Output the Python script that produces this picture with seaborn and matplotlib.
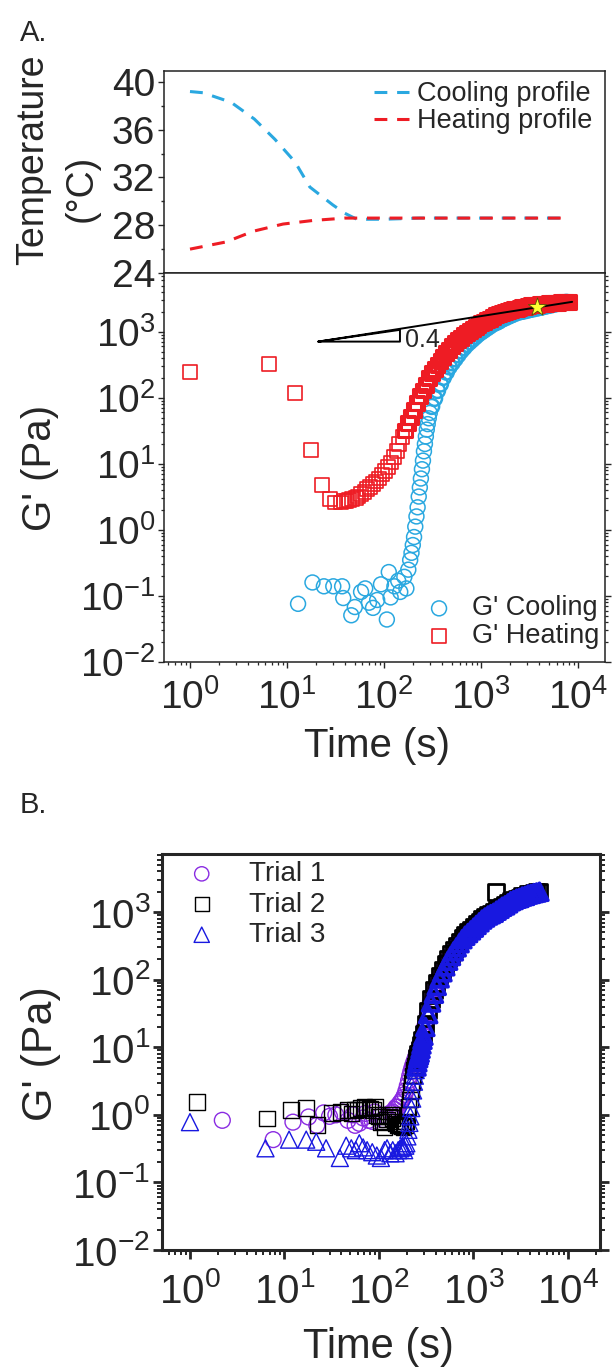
import matplotlib
matplotlib.use("Agg")
import numpy as np
import pandas as pd
import matplotlib.pyplot as plt
import seaborn as sns
from matplotlib.ticker import MultipleLocator, LogLocator, NullFormatter

sns.set_style("ticks")
plt.rcParams["font.family"] = ["Liberation Sans", "DejaVu Sans"]
plt.rcParams["mathtext.fontset"] = "custom"
plt.rcParams["mathtext.rm"] = "Liberation Sans"
plt.rcParams["mathtext.default"] = "regular"
plt.rcParams["axes.unicode_minus"] = False

# --- data: temperature profiles (panel A, top) ---
cool_prof_t = [1.0, 1.36, 2.65, 4.6, 7.5, 12.1, 17.2, 29.7, 39.5, 52.5, 98, 235, 770, 2500, 7200]
cool_prof_T = [39.2, 39.1, 38.3, 36.9, 35.2, 33.3, 31.2, 29.7, 29.0, 28.5, 28.5, 28.6, 28.6, 28.6, 28.6]
heat_prof_t = [1.0, 2.35, 4.5, 9.1, 18.5, 39.5, 145, 770, 7200]
heat_prof_T = [26.0, 26.6, 27.5, 28.1, 28.4, 28.6, 28.6, 28.6, 28.6]

# --- data: G' cooling / heating (panel A, bottom) ---
cool_t = [13, 18.3, 24, 30, 37, 38, 46, 50, 58, 64, 70, 77, 85, 93, 107, 112, 117, 128, 140, 147,
          162, 170, 178,
          186, 192, 198, 204, 210, 216, 222, 228, 234, 240, 246, 252, 258, 264, 270, 276, 282, 289,
          296, 310, 332, 356, 382, 409, 439, 470, 504, 540, 579, 621, 666, 714, 765, 820, 879, 943,
          1010, 1080, 1160, 1240, 1330, 1430, 1530, 1640, 1760, 1890, 2020, 2170, 2330, 2490, 2670,
          2870, 3070, 3290, 3530, 3790, 4060, 4350, 4660, 5000, 5360, 5750, 6160, 6600, 7080, 7590]
cool_g = [0.076, 0.16, 0.14, 0.14, 0.14, 0.093, 0.051, 0.068, 0.115, 0.13, 0.079, 0.066, 0.087,
          0.15, 0.044, 0.23, 0.095, 0.14, 0.17, 0.115, 0.195, 0.13, 0.25,
          0.35, 0.45, 0.59, 0.78, 1.12, 1.6, 2.2, 3.2, 4.4, 6.0, 8.3, 11.2, 15.5, 20, 26, 33, 40, 49,
          59, 74, 98, 129, 162, 204, 245, 295, 339, 389, 447, 513, 575, 646, 708, 776, 851, 933,
          1000, 1070, 1150, 1230, 1320, 1380, 1450, 1550, 1620, 1700, 1780, 1860, 1950, 2000, 2040,
          2090, 2140, 2190, 2240, 2290, 2340, 2400, 2450, 2510, 2570, 2630, 2690, 2720, 2750, 2790]
heat_t = [1.0, 6.5, 12, 17.5, 23, 28, 31,
          36, 39, 41, 44, 47, 51, 54, 58, 63, 67, 72, 77, 83, 89, 95, 102, 109, 117, 126, 135, 144,
          155, 166, 178, 191, 204, 219, 235, 252, 270, 289, 310, 332, 356, 382, 409, 439, 470, 504,
          540, 579, 621, 666, 714, 765, 820, 879, 943, 1010, 1080, 1160, 1240, 1330, 1430, 1530,
          1640, 1760, 1890, 2020, 2170, 2330, 2490, 2670, 2870, 3070, 3290, 3530, 3790, 4060, 4350,
          4660, 5000, 5360, 5750, 6160, 6600, 7080, 7590, 8100]
heat_g = [247, 330, 120, 16, 4.8, 2.9, 2.6,
          2.6, 2.7, 2.75, 2.8, 2.9, 3.0, 3.2, 3.5, 3.8, 4.1, 4.5, 4.9, 5.4, 6.0, 6.9, 7.9, 9.1, 10.5,
          12.9, 15.8, 20, 25.7, 32, 42, 52, 66, 83, 105, 129, 158, 200, 234, 275, 316, 363, 417, 479,
          537, 603, 676, 741, 813, 891, 955, 1020, 1100, 1175, 1260, 1350, 1410, 1510, 1580, 1700,
          1780, 1860, 1950, 2000, 2090, 2140, 2190, 2240, 2290, 2340, 2400, 2450, 2510, 2540, 2570,
          2600, 2630, 2660, 2690, 2720, 2750, 2770, 2790, 2810, 2830, 2850]
slope_t = [21, 146, 146, 21, 8700]   # slope guide: triangle then long line
slope_g = [710, 710, 1070, 710, 2840]
star_t = [3800]
star_g = [2400]

# --- data: three trials (panel B) ---
t1 = [2.2, 7.6, 12.3, 18, 22, 26, 30, 35, 41, 47, 53, 56, 62, 68, 72, 78, 85, 90, 100, 110, 120,
      133, 140, 146, 152, 158, 164, 170, 176, 182, 188, 194, 200, 206, 212, 218, 224, 230, 236,
      242, 248, 254, 260, 268, 276, 285, 296, 310, 332, 356, 382, 409, 439, 470, 504, 540, 579,
      621, 666, 714, 765, 820, 879, 943, 1010, 1080, 1160, 1240, 1330, 1430, 1530, 1640, 1760,
      1890, 2020, 2170, 2330, 2490, 2670, 2870, 3070, 3290, 3530, 3790, 4060]
g1 = [0.83, 0.43, 0.78, 0.93, 0.70, 1.07, 0.95, 1.0, 1.1, 0.83, 1.0, 0.70, 0.75, 0.9, 1.05, 0.83,
      0.8, 1.1, 0.93, 0.85, 0.95,
      1.07, 1.1, 1.2, 1.3, 1.3, 1.45, 1.55, 1.66, 1.8, 2.0, 2.3, 2.7, 3.2, 3.8, 4.4, 5.0, 5.6, 6.2,
      6.8, 7.4, 8.0, 8.6, 9.6, 10.8, 12.5, 15, 20, 31, 46, 62, 81, 105, 129, 158, 191, 224, 263,
      302, 347, 398, 447, 490, 537, 589, 646, 708, 776, 832, 891, 933, 977, 1050, 1120, 1200,
      1260, 1350, 1450, 1510, 1580, 1620, 1700, 1740, 1820, 1860]
t2 = [1.19, 6.5, 11.7, 16.9, 22.5, 32, 39, 47, 51, 56, 60, 65, 70, 75, 80, 87, 91, 95, 100, 105,
      110, 115,
      122, 128, 134, 140, 146, 152, 158, 164, 170, 176, 182, 188, 194, 200, 206, 212, 218, 224,
      230, 236, 242, 248, 254, 260, 268, 276, 285, 296, 310, 332, 356, 382, 409, 439, 470, 504,
      540, 579, 621, 666, 714, 765, 820, 879, 943, 1010, 1080, 1160, 1240, 1330, 1430, 1530,
      1640, 1740, 1760, 1890, 2020, 2170, 2330, 2490, 2670, 2870, 3070, 3290, 3530, 3790, 4060,
      4350, 4660, 5000]
g2 = [1.55, 0.89, 1.17, 1.26, 0.71, 1.07, 1.1, 1.17, 1.05, 1.17, 1.2, 1.26, 1.3, 1.26, 1.25, 1.17,
      1.3, 0.99, 0.95, 0.78, 0.8, 0.66,
      0.85, 0.95, 1.0, 0.9, 0.8, 0.75, 0.7, 0.72, 0.7, 0.68, 0.66, 0.7, 0.8, 1.0, 1.3, 1.7, 2.3,
      3.0, 3.8, 4.6, 5.4, 6.2, 7.0, 7.9, 9.2, 10.8, 13, 16, 22, 35, 52, 70, 90, 115, 140, 170, 205,
      240, 280, 320, 365, 415, 465, 510, 555, 610, 665, 725, 790, 850, 910, 955, 1000, 2000, 1070,
      1140, 1220, 1280, 1370, 1460, 1530, 1600, 1640, 1720, 1760, 1840, 1880, 1940, 1980, 2030]
t3 = [1.0, 6.3, 11.2, 17, 21.7, 27.6, 38.6, 45, 51, 57, 62, 68, 75, 85, 95, 105, 115, 122, 132,
      140, 150, 160, 168, 175, 180, 185, 190,
      195, 200, 205, 210, 215, 220, 225, 230, 235, 240, 245, 250, 255, 260, 265, 270, 276, 282,
      289, 296, 310, 332, 356, 382, 409, 439, 470, 504, 540, 579, 621, 666, 714, 765, 820, 879,
      943, 1010, 1080, 1160, 1240, 1330, 1430, 1530, 1640, 1760, 1890, 2020, 2170, 2330, 2490,
      2670, 2870, 3070, 3290, 3530, 3790, 4060, 4350, 4660, 5000]
g3 = [0.78, 0.32, 0.43, 0.43, 0.40, 0.32, 0.23, 0.35, 0.32, 0.30, 0.38, 0.33, 0.30, 0.28, 0.25,
      0.23, 0.30, 0.32, 0.27, 0.30, 0.27, 0.30, 0.32, 0.33, 0.34, 0.30, 0.35,
      0.38, 0.48, 0.60, 0.76, 0.95, 1.26, 1.74, 2.3, 3.1, 3.8, 4.6, 5.2, 6.0, 6.9, 7.6, 8.3, 9.5,
      11, 12.9, 14.8, 20, 31, 46, 62, 81, 105, 129, 158, 191, 224, 263, 302, 347, 398, 447, 490,
      537, 589, 646, 708, 776, 832, 891, 933, 977, 1050, 1120, 1200, 1260, 1350, 1450, 1510, 1580,
      1620, 1700, 1740, 1820, 1860, 1910, 1950, 2000]

df_cprof = pd.DataFrame({"t": cool_prof_t, "T": cool_prof_T})
df_hprof = pd.DataFrame({"t": heat_prof_t, "T": heat_prof_T})
df_cool = pd.DataFrame({"t": cool_t, "g": cool_g})
df_heat = pd.DataFrame({"t": heat_t, "g": heat_g})
df_t1 = pd.DataFrame({"t": t1, "g": g1})
df_t2 = pd.DataFrame({"t": t2, "g": g2})
df_t3 = pd.DataFrame({"t": t3, "g": g3})

c_cool = "#2aa8e0"
c_heat = "#ee1c24"
c_t1 = "#8a2be2"
c_t2 = "#000000"
c_t3 = "#1818e0"

W, H = 612, 1372
fig = plt.figure(figsize=(W / 100, H / 100), dpi=100)
axT = fig.add_axes([164 / W, 1 - 273 / H, 441 / W, 202 / H])
axA = fig.add_axes([164 / W, 1 - 662 / H, 441 / W, 389 / H])
axB = fig.add_axes([162 / W, 1 - 1250 / H, 438 / W, 396 / H])

# --- panel A top: temperature profiles ---
axT.set_xscale("log")
sns.lineplot(data=df_cprof, x="t", y="T", color=c_cool, lw=2.2, linestyle=(0, (4.2, 3.2)),
             errorbar=None, label="Cooling profile", ax=axT)
sns.lineplot(data=df_hprof, x="t", y="T", color=c_heat, lw=2.2, linestyle=(0, (4.2, 3.2)),
             errorbar=None, label="Heating profile", ax=axT)
axT.set_xlim(10 ** -0.268, 10 ** 4.278)
axT.set_ylim(24, 40.92)
axT.yaxis.set_major_locator(MultipleLocator(4))
axT.yaxis.set_minor_locator(MultipleLocator(2))
axT.tick_params(axis="x", which="both", bottom=False, labelbottom=False)
axT.tick_params(axis="y", which="major", length=4.3, width=1.0, labelsize=28, pad=2)
axT.tick_params(axis="y", which="minor", length=2.5, width=1.0)
axT.set_xlabel("")
axT.set_ylabel("")
axT.legend(loc="upper left", bbox_to_anchor=(0.476, 0.95), frameon=False, fontsize=19.5,
           handlelength=1.3, handletextpad=0.3, labelspacing=0.05, borderpad=0, borderaxespad=0)

# --- panel A bottom: G' cooling / heating ---
axA.set_xscale("log")
axA.set_yscale("log")
sns.scatterplot(data=df_cool, x="t", y="g", marker="o", s=115, color=c_cool, facecolor="none",
                edgecolor=c_cool, linewidth=np.where(df_cool["t"] >= 300, 1.8, 1.1),
                label="G' Cooling", ax=axA)
sns.scatterplot(data=df_heat, x="t", y="g", marker="s", s=100, color=c_heat, facecolor="none",
                edgecolor=c_heat, linewidth=np.where(df_heat["t"] >= 160, 2.2, 1.2),
                label="G' Heating", ax=axA)
axA.plot(slope_t, slope_g, color="black", lw=1.4, zorder=5)
axA.text(165, 760, "0.4", fontsize=18, va="center", ha="left")
sns.scatterplot(x=star_t, y=star_g, marker="*", s=190, color="#ffff33", edgecolor="#555500",
                linewidth=0.6, zorder=6, ax=axA)
axA.set_xlim(10 ** -0.268, 10 ** 4.278)
axA.set_ylim(1e-2, 10 ** 3.89)
for axis in (axA.xaxis, axA.yaxis):
    axis.set_major_locator(LogLocator(base=10, numticks=15))
    axis.set_minor_locator(LogLocator(base=10, subs=range(2, 10), numticks=15))
    axis.set_minor_formatter(NullFormatter())
axA.tick_params(which="major", length=4.3, width=1.0, labelsize=28)
axA.tick_params(which="minor", length=2.5, width=0.9)
axA.tick_params(axis="y", which="both", right=True, pad=2)
axA.tick_params(axis="x", which="both", pad=8)
axA.set_xlabel("Time (s)", fontsize=29)
axA.xaxis.set_label_coords(0.483, -0.217)
axA.xaxis.label.set_va("center")
axA.set_ylabel("G' (Pa)", fontsize=29)
axA.yaxis.set_label_coords(-0.281, 0.50)
axA.yaxis.label.set_va("center")
axA.legend(loc="upper left", bbox_to_anchor=(0.593, 0.171), frameon=False, fontsize=19.5,
           handlelength=1.0, handletextpad=0.72, labelspacing=0.05, borderpad=0, borderaxespad=0)

for ax in (axT, axA):
    for sp in ax.spines.values():
        sp.set_linewidth(1.1)
        sp.set_color("#222222")

# --- panel B: three trials ---
axB.set_xscale("log")
axB.set_yscale("log")
sns.scatterplot(data=df_t1, x="t", y="g", marker="o", s=130, color=c_t1, facecolor="none",
                edgecolor=c_t1, linewidth=np.where(df_t1["t"] >= 250, 2.0, 1.0),
                label="Trial 1", ax=axB)
sns.scatterplot(data=df_t2, x="t", y="g", marker="s", s=125, color=c_t2, facecolor="none",
                edgecolor=c_t2, linewidth=np.where(df_t2["t"] >= 250, 2.0, 1.0),
                label="Trial 2", ax=axB)
sns.scatterplot(data=df_t3, x="t", y="g", marker="^", s=150, color=c_t3, facecolor="none",
                edgecolor=c_t3, linewidth=np.where(df_t3["t"] >= 250, 2.6, 1.0),
                label="Trial 3", ax=axB)
axB.set_xlim(10 ** -0.296, 10 ** 4.34)
axB.set_ylim(1e-2, 10 ** 3.86)
for axis in (axB.xaxis, axB.yaxis):
    axis.set_major_locator(LogLocator(base=10, numticks=15))
    axis.set_minor_locator(LogLocator(base=10, subs=range(2, 10), numticks=15))
    axis.set_minor_formatter(NullFormatter())
axB.tick_params(which="major", length=6.5, width=2.0, labelsize=29)
axB.tick_params(which="minor", length=3.6, width=1.4)
axB.tick_params(axis="y", which="both", right=True, pad=2)
axB.tick_params(axis="x", which="both", pad=9)
for sp in axB.spines.values():
    sp.set_linewidth(2.2)
axB.set_xlabel("Time (s)", fontsize=30)
axB.xaxis.set_label_coords(0.495, -0.245)
axB.xaxis.label.set_va("center")
axB.set_ylabel("G' (Pa)", fontsize=31)
axB.yaxis.set_label_coords(-0.276, 0.497)
axB.yaxis.label.set_va("center")
axB.legend(loc="upper left", bbox_to_anchor=(0.059, 0.982), frameon=False, fontsize=20,
           handlelength=1.0, handletextpad=1.2, labelspacing=0.16, borderpad=0, borderaxespad=0,
           markerscale=0.9)

# --- panel letters and temperature axis title ---
fig.text(20 / W, 1 - 33 / H, "A.", fontsize=21, ha="left", va="center")
fig.text(20 / W, 1 - 805 / H, "B.", fontsize=21, ha="left", va="center")
fig.text(33 / W, 1 - 160 / H, "Temperature", fontsize=27, rotation=90, ha="center", va="center")
fig.text(82 / W, 1 - 188 / H, "(°C)", fontsize=27, rotation=90, ha="center", va="center")

fig.savefig("out.png", dpi=100)
